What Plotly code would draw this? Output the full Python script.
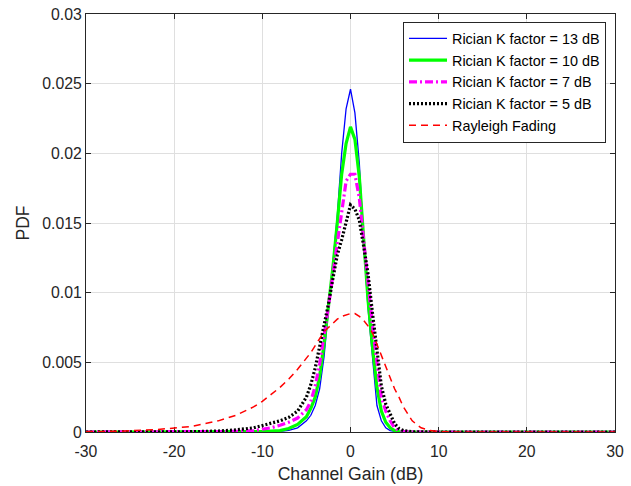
import plotly.graph_objects as go

# Channel gain grid (dB)
gain_db = [-30, -26, -22, -18, -15, -13, -11, -10, -9, -8, -7, -6, -5,
           -4.5, -4, -3.5, -3, -2.5, -2, -1.5, -1, -0.5,
           0,
           0.5, 1, 1.5, 2, 2.5, 3, 3.5, 4, 4.5, 5, 5.5, 6,
           7, 8, 9, 10, 12, 16, 20, 25, 30]

pdf_k13 = [0, 0, 0, 0, 0, 0, 0, 0, 0.00002, 0.00005, 0.00012, 0.0003, 0.0008,
           0.0012, 0.0019, 0.0031, 0.0054, 0.0088, 0.0121, 0.0155, 0.0200, 0.0232,
           0.0246,
           0.0229, 0.0193, 0.0135, 0.0088, 0.0056, 0.0019, 0.0008, 0.0003, 0.0001, 0.00003, 0, 0,
           0, 0, 0, 0, 0, 0, 0, 0, 0]

pdf_k10 = [0, 0, 0, 0, 0, 0, 0.00001, 0.00003, 0.00006, 0.0001, 0.00025, 0.00055, 0.0011,
           0.0017, 0.0025, 0.0040, 0.0063, 0.0090, 0.0118, 0.0150, 0.0185, 0.0207,
           0.0219,
           0.0210, 0.0183, 0.0138, 0.0094, 0.0061, 0.0032, 0.0015, 0.0007, 0.0003, 0.0001, 0.00003, 0,
           0, 0, 0, 0, 0, 0, 0, 0, 0]

pdf_k7 = [0, 0, 0, 0, 0, 0.00004, 0.0001, 0.00018, 0.0003, 0.00048, 0.0007, 0.0010, 0.0016,
          0.0022, 0.0033, 0.0049, 0.0068, 0.0090, 0.0113, 0.0136, 0.0160, 0.0180,
          0.0185,
          0.0185, 0.0168, 0.0136, 0.0105, 0.0076, 0.0050, 0.0025, 0.0015, 0.0008, 0.0003, 0.0001, 0.00003,
          0, 0, 0, 0, 0, 0, 0, 0, 0]

pdf_k5 = [0, 0, 0, 0.00002, 0.00007, 0.00015, 0.0003, 0.00045, 0.0006, 0.0008, 0.00105, 0.0015, 0.0025,
          0.0034, 0.0046, 0.0061, 0.0076, 0.0092, 0.0110, 0.0127, 0.0138, 0.0150,
          0.0163,
          0.0160, 0.0152, 0.0133, 0.0113, 0.0085, 0.0058, 0.0033, 0.0020, 0.0013, 0.0006, 0.00025, 0.0001,
          0.00002, 0, 0, 0, 0, 0, 0, 0, 0]

pdf_rayleigh = [0.00002, 0.00006, 0.00017, 0.0004, 0.0008, 0.0012, 0.0018, 0.0022, 0.0027, 0.0032, 0.0038, 0.0045, 0.0053,
                0.0057, 0.0062, 0.0067, 0.0072, 0.0075, 0.0078, 0.0081, 0.0083, 0.0084,
                0.0085,
                0.0085, 0.0083, 0.0080, 0.0076, 0.0071, 0.0063, 0.0056, 0.0048, 0.0040, 0.0031, 0.0025, 0.0018,
                0.0008, 0.0003, 0.0001, 0.00003, 0, 0, 0, 0, 0]

series_names = ["Rician K factor = 13 dB", "Rician K factor = 10 dB",
                "Rician K factor = 7 dB", "Rician K factor = 5 dB", "Rayleigh Fading"]

x_tick_vals = [-30, -20, -10, 0, 10, 20, 30]
x_tick_text = ["-30", "-20", "-10", "0", "10", "20", "30"]
y_tick_vals = [0, 0.005, 0.01, 0.015, 0.02, 0.025, 0.03]
y_tick_text = ["0", "0.005", "0.01", "0.015", "0.02", "0.025", "0.03"]

styles = [
    dict(color="#0000ff", width=1.3, dash="solid"),
    dict(color="#00ff00", width=3.2, dash="solid"),
    dict(color="#ff00ff", width=3.2, dash="8px,3px,2px,3px"),
    dict(color="#000000", width=3.2, dash="2px,2px"),
    dict(color="#ff0000", width=1.5, dash="7px,5px"),
]

fig = go.Figure()
for name, ys, st in zip(series_names, [pdf_k13, pdf_k10, pdf_k7, pdf_k5, pdf_rayleigh], styles):
    fig.add_trace(go.Scatter(x=gain_db, y=ys, mode="lines", name=name, line=st))

font_family = "Liberation Sans, Arial, sans-serif"
axis_common = dict(
    showline=True, linecolor="#262626", linewidth=1, mirror="allticks",
    ticks="inside", ticklen=5, tickcolor="#262626", tickwidth=1,
    showgrid=True, gridcolor="#dfdfdf", gridwidth=1,
    zeroline=False, automargin=False, layer="below traces",
    tickfont=dict(family=font_family, size=15.8, color="#262626"),
)

fig.update_layout(
    width=631, height=486,
    margin=dict(l=86, r=16, t=14, b=54),
    paper_bgcolor="white", plot_bgcolor="white",
    font=dict(family=font_family, color="#262626"),
    xaxis=dict(range=[-30, 30], tickvals=x_tick_vals, ticktext=x_tick_text,
               ticklabelstandoff=5,
               title=dict(text="Channel Gain (dB)", font=dict(size=17.6, color="#262626"), standoff=8),
               **axis_common),
    yaxis=dict(range=[0, 0.03], tickvals=y_tick_vals, ticktext=y_tick_text,
               title=dict(text="PDF", font=dict(size=17.6, color="#262626"), standoff=8),
               **axis_common),
    legend=dict(x=0.983, y=0.982, xanchor="right", yanchor="top",
                bgcolor="white", bordercolor="#262626", borderwidth=1,
                font=dict(family=font_family, size=14.4, color="#000000"),
                itemwidth=38, tracegroupgap=0),
    showlegend=True,
)

fig.write_html("out.html")
